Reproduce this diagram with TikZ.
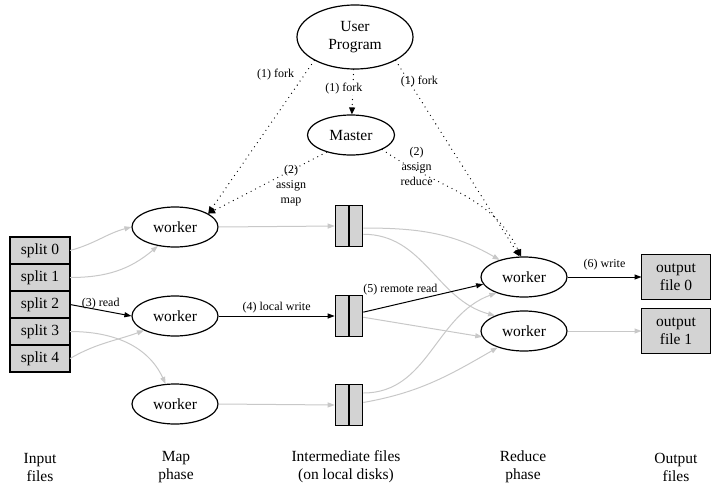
\documentclass[tikz,border=0pt]{standalone}
\usepackage{fontspec}
\setmainfont{Liberation Serif}
\usetikzlibrary{arrows.meta,positioning,shapes.geometric}

\definecolor{edgegray}{RGB}{200,200,200}
\definecolor{boxgray}{RGB}{211,211,211}

\begin{document}
\begin{tikzpicture}[x=1pt,y=-1pt]
\tikzstyle{every node}=[font=\fontsize{15.5}{18}\selectfont]
\tikzstyle{job}=[ellipse,draw,line width=1.2pt,inner sep=0pt,minimum width=86pt,minimum height=40pt,align=center]
\tikzstyle{split}=[rectangle,draw,line width=1.6pt,fill=boxgray,minimum width=60pt,minimum height=27pt,inner sep=0pt,outer sep=0pt]
\tikzstyle{disk}=[rectangle,draw,line width=1.6pt,fill=boxgray,minimum width=27pt,minimum height=41pt,inner sep=0pt,
  path picture={\draw[line width=1.6pt] (path picture bounding box.north) -- (path picture bounding box.south);}]
\tikzstyle{outfile}=[split,minimum width=69pt,minimum height=45pt,align=center]
\tikzstyle{phase}=[align=center]
\tikzstyle{lbl}=[font=\fontsize{12}{15}\selectfont,align=center,inner sep=1pt]
\tikzstyle{flow}=[draw=edgegray,line width=1pt,-{Triangle[length=7pt,width=5pt]}]
\tikzstyle{data}=[flow,draw=black]
\tikzstyle{ctrl}=[draw=black,line width=1.3pt,dash pattern=on 0pt off 5pt,line cap=round,-{Triangle[length=7pt,width=6pt]}]

\useasboundingbox (0,0) rectangle (720,493);

% processes
\node[job,minimum width=116pt,minimum height=64pt] (user) at (355,37) {User\\Program};
\node[job,minimum width=87pt] (master) at (351,135) {Master};
\node[job] (map1) at (175,227) {worker};
\node[job] (map2) at (175,316) {worker};
\node[job] (map3) at (175,404) {worker};
\node[job] (red1) at (524,277) {worker};
\node[job] (red2) at (524,331) {worker};

% input splits
\node[split] (split0) at (40,250.5) {split 0};
\node[split,below=0pt of split0] (split1) {split 1};
\node[split,below=0pt of split1] (split2) {split 2};
\node[split,below=0pt of split2] (split3) {split 3};
\node[split,below=0pt of split3] (split4) {split 4};

% intermediate files
\node[disk] (file1) at (349,226) {};
\node[disk] (file2) at (349,316) {};
\node[disk] (file3) at (349,405) {};

% output files
\node[outfile] (out0) at (676,277) {output\\file 0};
\node[outfile] (out1) at (676,331) {output\\file 1};

% phase captions
\node[phase] (inlbl) at (40,467) {Input\\files};
\node[phase] (maplbl) at (176,467) {Map\\phase};
\node[phase] (midlbl) at (346,467) {Intermediate files\\(on local disks)};
\node[phase] (redlbl) at (523,467) {Reduce\\phase};
\node[phase] (outlbl) at (676,467) {Output\\files};

% fork and assign
\draw[ctrl] (user.210) -- node[lbl,pos=.09,left=9pt]{(1) fork} (map1.22);
\draw[ctrl] (user) -- node[lbl,pos=.42,xshift=-9pt,fill=white]{(1) fork} (master);
\draw[ctrl] (user.330) -- node[lbl,pos=.11,xshift=10pt]{(1) fork} (red1.102);
\draw[ctrl] (master.215) -- node[lbl,pos=.55,right=13pt]{(2)\\assign\\map} (map1.22);
\draw[ctrl] (master.335) to[out=-35,in=115] node[lbl,pos=.33,anchor=south east,xshift=-2pt,yshift=-7pt]{(2)\\assign\\reduce} (red1.98);

% map phase
\draw[flow] (split0.east) to[out=15,in=195] (map1.west);
\draw[flow] (split1.east) to[out=0,in=220] (map1.228);
\draw[data] (split2.east) -- node[lbl,above]{(3) read} (map2.west);
\draw[flow] (split3.east) to[out=0,in=115] (map3.115);
\draw[flow] (split4.east) to[out=30,in=200] (map2.205);

\draw[flow] (map1.east) -- (file1.west);
\draw[data] (map2.east) -- node[lbl,above=1pt]{(4) local write} (file2.west);
\draw[flow] (map3.east) -- (file3.west);

% reduce phase
\draw[flow] (file1.-8) to[out=0,in=150] (red1.145);
\draw[flow] (file1.-30) to[out=0,in=165] (red2.152);
\draw[data] (file2.15) -- node[lbl,pos=.31,above=7pt]{(5) remote read} (red1.190);
\draw[flow] (file2.-5) -- (red2.188);
\draw[flow] (file3.40) to[out=0,in=200] (red1.210);
\draw[flow] (file3.10) to[out=10,in=210] (red2.212);

\draw[data] (red1.east) -- node[lbl,above=5pt]{(6) write} (out0.west);
\draw[flow] (red2.east) -- (out1.west);
\end{tikzpicture}
\end{document}
